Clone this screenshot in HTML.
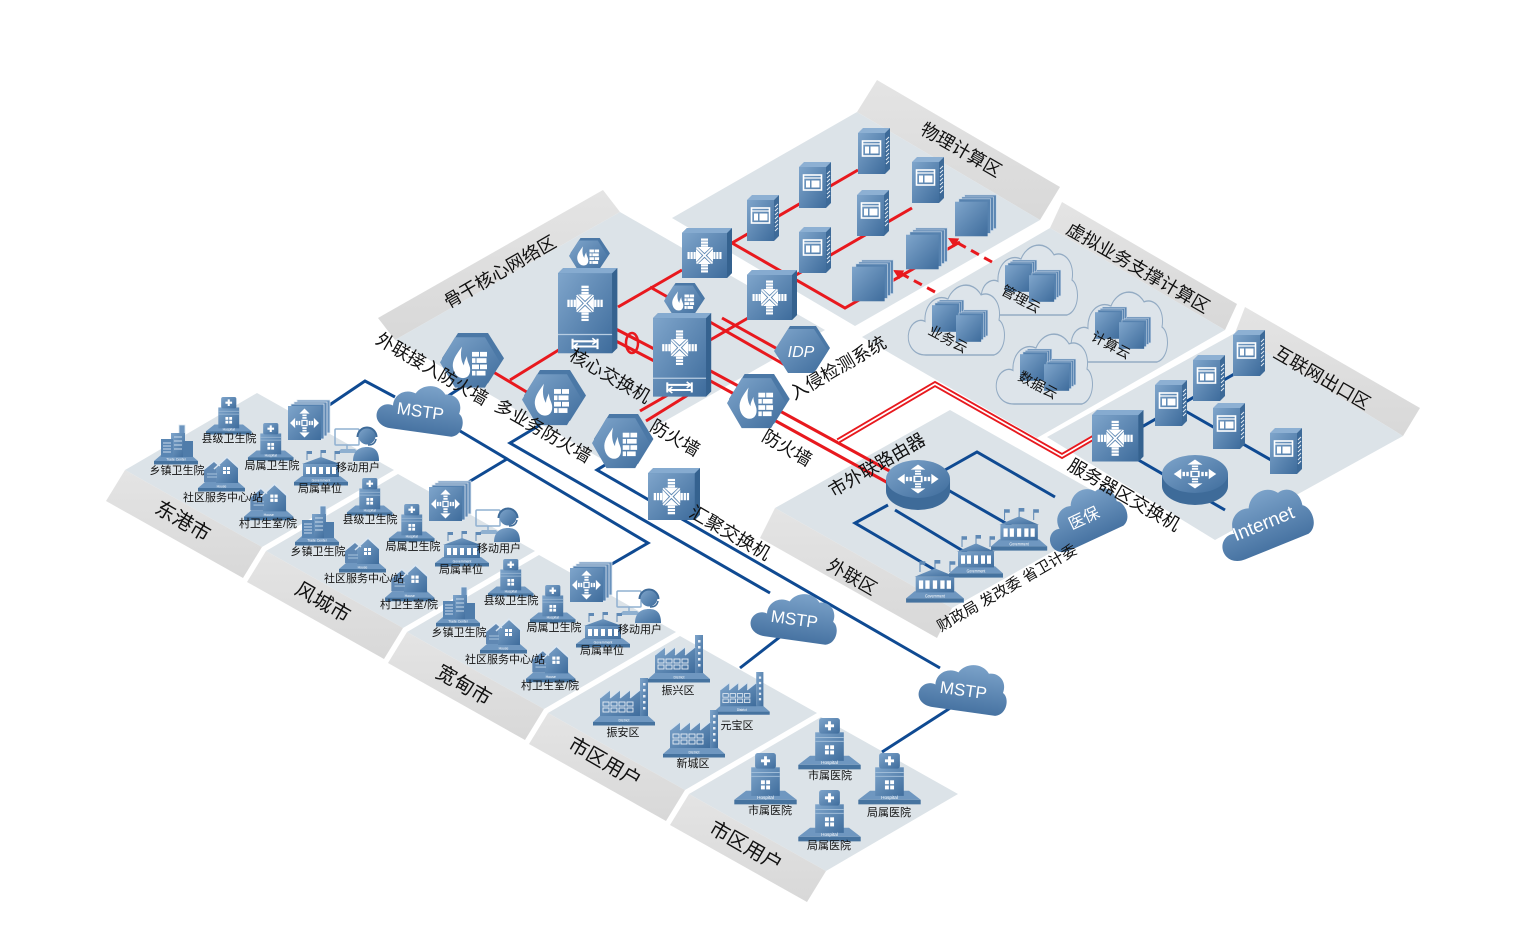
<!DOCTYPE html>
<html><head><meta charset="utf-8">
<style>
html,body{margin:0;padding:0;background:#fff;}
svg{display:block;}
text{font-family:"Liberation Sans","Noto Sans CJK SC",sans-serif;}
</style></head><body>
<svg width="1539" height="929" viewBox="0 0 1539 929" xmlns="http://www.w3.org/2000/svg">
<defs>
<linearGradient id="ig" x1="0" y1="0" x2="1" y2="1"><stop offset="0" stop-color="#7fa5cb"/><stop offset="1" stop-color="#3e6c9c"/></linearGradient>
<linearGradient id="cg" x1="0" y1="0" x2="0" y2="1"><stop offset="0" stop-color="#7ba2c9"/><stop offset="1" stop-color="#4773a2"/></linearGradient>
<linearGradient id="bg" x1="0" y1="0" x2="0" y2="1"><stop offset="0" stop-color="#e4e4e4"/><stop offset="1" stop-color="#d8d8d8"/></linearGradient>

<g id="ia"><rect x="-3.5" y="-17" width="7" height="2.2"/><rect x="-3.5" y="-14" width="7" height="2.2"/><rect x="-3.5" y="-11" width="7" height="2.2"/><path d="M-6.5,-8.5 H6.5 L0,-2.5 Z"/></g>
<g id="inarr" fill="#fff"><path d="M-8,-8 L8,8 M8,-8 L-8,8" stroke="#fff" stroke-width="1.6"/><use href="#ia"/><use href="#ia" transform="rotate(90)"/><use href="#ia" transform="rotate(180)"/><use href="#ia" transform="rotate(270)"/></g>
<g id="oa"><rect x="-2.5" y="-10" width="5" height="2"/><rect x="-2.5" y="-7" width="5" height="2"/><path d="M-6,-11 H6 L0,-17 Z"/></g>
<g id="outarr" fill="#fff"><use href="#oa"/><use href="#oa" transform="rotate(90)"/><use href="#oa" transform="rotate(180)"/><use href="#oa" transform="rotate(270)"/><rect x="-3" y="-3" width="6" height="6" fill="none" stroke="#fff" stroke-width="1.5"/></g>

<g id="sw">
 <path d="M0,5 L5,0 H50 V45 L45,50 Z" fill="#4b78a6"/>
 <rect x="0" y="5" width="45" height="45" fill="url(#ig)"/>
 <path d="M45,5 L50,0 V45 L45,50 Z" fill="#35628f"/>
 <path d="M0,5 L5,0 H50 L45,5 Z" fill="#86abd0"/>
 <g transform="translate(22.5,27.5)"><use href="#inarr"/></g>
</g>
<g id="asw">
 <rect x="9" y="0" width="33" height="33" fill="#6a93bd" stroke="#dfe8f1" stroke-width=".8"/>
 <rect x="6" y="2" width="33" height="34" fill="#5f89b5" stroke="#dfe8f1" stroke-width=".8"/>
 <rect x="3" y="4" width="33" height="35" fill="#5582b0" stroke="#dfe8f1" stroke-width=".8"/>
 <rect x="0" y="6" width="33" height="34" fill="url(#ig)"/>
 <g transform="translate(16.5,23) scale(.85)"><use href="#outarr"/></g>
</g>
<g id="cs">
 <path d="M0,5 L5,0 H57 V77 L52,82 Z" fill="#4b78a6"/>
 <rect x="0" y="5" width="52" height="77" fill="url(#ig)"/>
 <path d="M52,5 L57,0 V77 L52,82 Z" fill="#35628f"/>
 <path d="M0,5 L5,0 H57 L52,5 Z" fill="#86abd0"/>
 <line x1="0" y1="64" x2="52" y2="64" stroke="#b8cde2" stroke-width="1.2"/>
 <g transform="translate(26,34)"><use href="#inarr"/></g>
 <g transform="translate(26,73)" stroke="#fff" stroke-width="2" fill="none"><path d="M-12,-5 V5 M12,-5 V5 M-12,-2.5 H12 M-12,2.5 H12"/><path d="M7,-5.5 L11,-2.5 L7,0.5 M-7,-0.5 L-11,2.5 L-7,5.5" stroke-width="1.5"/></g>
</g>
<g id="fw">
 <path d="M18,0 H48 L64,24 L48,48 H18 L2,24 Z" fill="#4b78a6"/>
 <path d="M15,4 H45 L60,28 L45,52 H15 L0,28 Z" fill="url(#ig)"/>
 <path d="M22,13 C16,21 12,26 13,33 C14,39 18,43 23,43 C28,43 31,39 30,33 C29,29 27,27 27,22 C25,26 24,28 24,31 C21,27 20,20 22,13 Z" fill="#fff"/>
 <g fill="#fff"><rect x="32" y="18" width="7" height="4.5"/><rect x="40" y="18" width="7" height="4.5"/><rect x="32" y="24" width="3.5" height="4.5"/><rect x="36.5" y="24" width="10" height="4.5"/><rect x="32" y="30" width="7" height="4.5"/><rect x="40" y="30" width="7" height="4.5"/><rect x="32" y="36" width="3.5" height="4.5"/><rect x="36.5" y="36" width="9" height="4.5"/></g>
</g>
<g id="srv">
 <path d="M0,5 L5,0 H32 L27,5 Z" fill="#8db0d3"/>
 <rect x="0" y="5" width="27" height="41" fill="url(#ig)"/>
 <path d="M27,5 L32,0 V41 L27,46 Z" fill="#3d6a98"/>
 <path d="M28,12 L31,9 M28,16 L31,13 M28,20 L31,17 M28,24 L31,21 M28,28 L31,25 M28,32 L31,29 M28,36 L31,33" stroke="#dfe9f3" stroke-width="1"/>
 <rect x="4.5" y="13" width="18" height="15" fill="none" stroke="#fff" stroke-width="1.6"/>
 <line x1="4.5" y1="16" x2="22.5" y2="16" stroke="#fff" stroke-width="1.2"/>
 <rect x="7" y="18.5" width="4" height="7" fill="#fff"/>
 <rect x="12.5" y="18.5" width="8" height="7" fill="#fff"/>
</g>
<g id="bl">
 <rect x="10" y="0" width="33" height="35" fill="#5d87b3" stroke="#c9d8e8" stroke-width=".7"/>
 <rect x="7" y="2" width="33" height="35" fill="#5a85b2" stroke="#c9d8e8" stroke-width=".7"/>
 <rect x="4" y="4" width="33" height="36" fill="#5682af" stroke="#c9d8e8" stroke-width=".7"/>
 <rect x="0" y="7" width="34" height="36" fill="url(#ig)"/>
</g>
<g id="rt">
 <path d="M0,22 V34 A33,19 0 0 0 66,34 V22 Z" fill="#3e6b99"/>
 <ellipse cx="33" cy="22" rx="33" ry="19" fill="url(#ig)"/>
 <g transform="translate(33,22) scale(1.25,.85)"><use href="#outarr"/></g>
</g>
<path id="cloud" d="M20,55 C6,55 0,46 3,38 C6,31 14,29 19,31 C18,19 30,11 42,15 C48,4 66,1 75,12 C86,9 96,18 93,30 C101,34 101,52 88,55 Z"/>
<g id="hs">
 <path d="M1,36 L10,29 H40 L49,36 Z" fill="#6f97c0"/>
 <rect x="1" y="36" width="48" height="3.5" fill="#46739f"/>
 <rect x="14" y="11" width="22" height="22" fill="url(#ig)"/>
 <path d="M14,15 H36 M14,18 H36" stroke="#9fbcd8" stroke-width=".8"/>
 <rect x="17" y="0" width="16" height="12" rx="2" fill="url(#ig)"/>
 <path d="M25,2.5 V9.5 M21.5,6 H28.5" stroke="#fff" stroke-width="2.2"/>
 <g fill="#fff"><rect x="21.5" y="21" width="3" height="3"/><rect x="25.5" y="21" width="3" height="3"/><rect x="21.5" y="25" width="3" height="3"/><rect x="25.5" y="25" width="3" height="3"/></g>
 <text x="25" y="35.3" font-size="3.6" fill="#fff" text-anchor="middle">Hospital</text>
</g>
<g id="gv">
 <path d="M1,32 L9,26 H47 L55,32 Z" fill="#6f97c0"/>
 <rect x="1" y="32" width="54" height="3.5" fill="#46739f"/>
 <path d="M14,1 V10 M28,0 V8 M42,1 V10" stroke="#5f89b5" stroke-width="1"/>
 <path d="M14,1 h5 v3 h-5 Z M28,0 h5 v3 h-5 Z M42,1 h5 v3 h-5 Z" fill="#5f89b5"/>
 <path d="M9,14 L28,7 L47,14 Z" fill="url(#ig)"/>
 <rect x="10" y="14" width="36" height="13" fill="url(#ig)"/>
 <g fill="#fff"><rect x="13" y="17" width="4" height="7"/><rect x="19" y="17" width="4" height="7"/><rect x="26" y="17" width="4" height="7"/><rect x="33" y="17" width="4" height="7"/><rect x="39" y="17" width="4" height="7"/></g>
 <text x="28" y="31.3" font-size="3.4" fill="#fff" text-anchor="middle">Government</text>
</g>
<g id="hu">
 <path d="M1,32 L8,26 H41 L48,32 Z" fill="#6f97c0"/>
 <rect x="1" y="32" width="47" height="3.5" fill="#46739f"/>
 <path d="M7,26 V14 L17,6 L26,14 V26 Z" fill="#6088b3"/>
 <path d="M19,27 V12 L30,2 L41,12 V27 Z" fill="url(#ig)"/>
 <path d="M17,13 L30,1 L43,13" fill="none" stroke="#dbe6f1" stroke-width="1.5"/>
 <path d="M5,15 L17,5 L23,10" fill="none" stroke="#dbe6f1" stroke-width="1.2"/>
 <g fill="#fff"><rect x="26" y="11" width="3" height="3"/><rect x="30" y="11" width="3" height="3"/><rect x="26" y="15" width="3" height="3"/><rect x="30" y="15" width="3" height="3"/></g>
 <path d="M10,18 H20 M10,21 H20" stroke="#a9c3dc" stroke-width="1"/>
 <text x="24.5" y="31.3" font-size="3.4" fill="#fff" text-anchor="middle">House</text>
</g>
<g id="tc">
 <path d="M1,36 L8,30 H38 L45,36 Z" fill="#6f97c0"/>
 <rect x="1" y="36" width="44" height="3.5" fill="#46739f"/>
 <rect x="26" y="0" width="6" height="14" fill="#6d95bf" stroke="#dbe6f1" stroke-width=".8"/>
 <rect x="18" y="8" width="14" height="24" fill="url(#ig)"/>
 <rect x="8" y="14" width="12" height="18" fill="#5a86b3"/>
 <rect x="30" y="16" width="10" height="16" fill="#4f7caa"/>
 <path d="M10,18 H18 M10,21 H18 M10,24 H18 M10,27 H18 M21,12 H29 M21,16 H29 M21,20 H29 M21,24 H29" stroke="#c9dbec" stroke-width="1"/>
 <text x="23" y="35.3" font-size="3.4" fill="#fff" text-anchor="middle">Trade Center</text>
</g>
<g id="fc">
 <path d="M1,44 L9,37 H55 L63,44 Z" fill="#6f97c0"/>
 <rect x="1" y="44" width="62" height="3.5" fill="#46739f"/>
 <rect x="48" y="0" width="8" height="38" fill="url(#ig)"/>
 <path d="M8,38 V20 L18,12 V20 L28,12 V20 L38,12 V20 L48,12 V38 Z" fill="url(#ig)"/>
 <path d="M8,20 L18,12 M18,20 L28,12 M28,20 L38,12 M38,20 L48,12" stroke="#d5e2ef" stroke-width="1.2"/>
 <g fill="none" stroke="#e7eef6" stroke-width=".9"><rect x="11" y="24" width="6" height="4"/><rect x="19" y="24" width="6" height="4"/><rect x="27" y="24" width="6" height="4"/><rect x="35" y="24" width="6" height="4"/><rect x="11" y="30" width="6" height="4"/><rect x="19" y="30" width="6" height="4"/><rect x="27" y="30" width="6" height="4"/><rect x="35" y="30" width="6" height="4"/></g>
 <g fill="#e7eef6"><rect x="51" y="5" width="2.5" height="2.5"/><rect x="51" y="11" width="2.5" height="2.5"/><rect x="51" y="17" width="2.5" height="2.5"/><rect x="51" y="23" width="2.5" height="2.5"/><rect x="51" y="29" width="2.5" height="2.5"/></g>
 <text x="32" y="43.3" font-size="3.6" fill="#fff" text-anchor="middle">District</text>
</g>
<g id="mu">
 <rect x="2" y="6" width="24" height="16" rx="1" fill="none" stroke="#8fb0d0" stroke-width="1.5"/>
 <path d="M14,22 V26" stroke="#8fb0d0" stroke-width="1.5"/>
 <path d="M4,30 L26,30 L22,26 H8 Z" fill="#8fb0d0"/>
 <path d="M20,38 C20,28 26,24 34,24 C42,24 46,28 46,38 Z" fill="url(#ig)"/>
 <circle cx="34" cy="13" r="8.5" fill="url(#ig)"/>
 <path d="M24.5,14 A9.5,9.5 0 0 1 43.5,14" fill="none" stroke="#3e6b99" stroke-width="2"/>
 <path d="M43,16 Q42,22 35,22" fill="none" stroke="#3e6b99" stroke-width="1.5"/>
</g>
<g id="city">
 <use href="#asw" transform="translate(288,400)"/>
 <use href="#hs" transform="translate(205,397) scale(.95)"/>
 <use href="#tc" transform="translate(153,425)"/>
 <use href="#hs" transform="translate(247,423) scale(.95)"/>
 <use href="#mu" transform="translate(333,423)"/>
 <use href="#hu" transform="translate(197,456)"/>
 <use href="#gv" transform="translate(293,450)"/>
 <use href="#hu" transform="translate(243,483) scale(1.05)"/>
</g>
<g id="vc">
 <use href="#cloud" transform="translate(-4,-10) scale(1.0,1.4)" fill="#dde4ea" stroke="#93abc3" stroke-width="1"/>
 <use href="#bl" transform="translate(22,12) scale(.74)"/>
 <use href="#bl" transform="translate(46,22) scale(.74)"/>
</g>
</defs>

<!-- plates -->
<g>
 <polygon points="378,318 603,190 620,212 395,340" fill="url(#bg)"/>
 <polygon points="395,340 620,212 825,330 600,458" fill="#dce3e8"/>
 <polygon points="877,80 1060,187 1040,220 857,112" fill="url(#bg)"/>
 <polygon points="672,218 857,112 1040,220 855,326" fill="#dce3e8"/>
 <polygon points="1050,228 1225,330 1237,304 1062,202" fill="url(#bg)"/>
 <polygon points="862,337 1050,228 1225,330 1037,438" fill="#dce3e8"/>
 <polygon points="1235,333 1245,307 1420,408 1403,436" fill="url(#bg)"/>
 <polygon points="1047,437 1235,333 1403,436 1215,540" fill="#dce3e8"/>
 <polygon points="775,508 950,410 1127,510 952,608" fill="#dce3e8"/>
 <polygon points="775,508 952,608 937,638 760,538" fill="url(#bg)"/>
 <polygon points="125,470 257,393 394,470 262,547" fill="#dce3e8"/>
 <polygon points="125,470 262,547 243,578 106,501" fill="url(#bg)"/>
 <polygon points="266,551 398,474 535,551 403,628" fill="#dce3e8"/>
 <polygon points="266,551 403,628 384,659 247,582" fill="url(#bg)"/>
 <polygon points="407,632 539,555 676,632 544,709" fill="#dce3e8"/>
 <polygon points="407,632 544,709 525,740 388,663" fill="url(#bg)"/>
 <polygon points="548,713 680,636 817,713 685,790" fill="#dce3e8"/>
 <polygon points="548,713 685,790 666,821 529,744" fill="url(#bg)"/>
 <polygon points="689,794 821,717 958,794 826,871" fill="#dce3e8"/>
 <polygon points="689,794 826,871 807,902 670,825" fill="url(#bg)"/>
</g>

<!-- blue lines -->
<g stroke="#0f4a92" stroke-width="3" fill="none" stroke-linejoin="miter">
 <path d="M325,408 L365,381 L395,397"/>
 <path d="M445,398 L468,383"/>
 <path d="M455,428 L648,543 L605,568"/>
 <path d="M507,459 L462,486"/>
 <path d="M540,425 L510,443 L770,593"/>
 <path d="M610,462 L597,470 L940,668"/>
 <path d="M785,633 L740,668"/>
 <path d="M955,705 L882,752"/>
 <path d="M945,470 L977,452 L1055,497"/>
 <path d="M948,490 L1035,540"/>
 <path d="M888,505 L855,523 L935,570"/>
 <path d="M895,510 L978,560"/>
 <path d="M1140,428 L1250,365"/>
 <path d="M1180,408 L1285,468"/>
 <path d="M1135,458 L1225,510"/>
</g>

<!-- red lines -->
<g stroke="#e8191e" stroke-width="3" fill="none">
 <path d="M618,307 L682,270"/>
 <path d="M650,287 L680,304"/>
 <path d="M732,243 L858,170"/>
 <path d="M732,243 L845,308 L960,242"/>
 <path d="M770,290 L912,208"/>
 <path d="M705,343 L755,314"/>
 <path d="M710,322 L785,365"/>
 <path d="M722,318 L790,356"/>
 <path d="M570,343 L510,380"/>
 <path d="M490,370 L530,394"/>
 <path d="M612,327 L660,352"/>
 <path d="M612,339 L660,364"/>
 <path d="M705,368 L742,388"/>
 <path d="M705,378 L736,395"/>
 <path d="M778,410 L895,474"/>
 <path d="M774,420 L890,484"/>
 <path d="M680,388 L640,411"/>
 <path d="M696,390 L646,421"/>
 <ellipse cx="632" cy="343" rx="6" ry="10" stroke-width="2.5"/>
</g>
<path d="M838,441 L935,384 L1062,456 L1098,435" stroke="#e8191e" stroke-width="5.5" fill="none"/>
<path d="M838,441 L935,384 L1062,456 L1098,435" stroke="#fff" stroke-width="1.8" fill="none"/>
<g stroke="#e8191e" stroke-width="3" stroke-dasharray="9,6" fill="none">
 <path d="M992,262 L956,242"/>
 <path d="M935,292 L900,273"/>
</g>
<polygon points="948,238 959.2,238.5 954.2,247.2" fill="#e8191e"/>
<polygon points="893,270 904.2,270.5 899.2,279.2" fill="#e8191e"/>

<!-- physical servers -->
<use href="#srv" transform="translate(858,128)"/>
<use href="#srv" transform="translate(799,162)"/>
<use href="#srv" transform="translate(912,157)"/>
<use href="#srv" transform="translate(747,195)"/>
<use href="#srv" transform="translate(857,190)"/>
<use href="#srv" transform="translate(799,227)"/>
<use href="#bl" transform="translate(955,195) scale(.96)"/>
<use href="#bl" transform="translate(906,228) scale(.96)"/>
<use href="#bl" transform="translate(852,260) scale(.96)"/>

<!-- virtual clouds -->
<use href="#vc" transform="translate(983,248)"/>
<use href="#vc" transform="translate(910,288)"/>
<use href="#vc" transform="translate(1073,295)"/>
<use href="#vc" transform="translate(998,337)"/>

<!-- core area -->
<use href="#sw" transform="translate(682,228)"/>
<use href="#sw" transform="translate(747,270)"/>
<use href="#fw" transform="translate(569,238) scale(.64)"/>
<use href="#cs" transform="translate(558,268) scale(1.04)"/>
<use href="#fw" transform="translate(664,283) scale(.64)"/>
<use href="#cs" transform="translate(653,313) scale(1.02)"/>
<g transform="translate(774,326)">
 <path d="M16,0 H42 L56,22 L42,44 H16 L2,22 Z" fill="#4b78a6"/>
 <path d="M14,3 H40 L54,25 L40,47 H14 L0,25 Z" fill="url(#ig)"/>
 <text x="27" y="31" font-size="16" font-style="italic" fill="#fff" text-anchor="middle">IDP</text>
</g>
<use href="#fw" transform="translate(440,333) scale(1,1.05)"/>
<use href="#fw" transform="translate(522,370) scale(1,1.06)"/>
<use href="#fw" transform="translate(592,414) scale(.96,1.04)"/>
<use href="#fw" transform="translate(727,374) scale(.98,1.04)"/>
<use href="#sw" transform="translate(648,468) scale(1.04)"/>

<!-- internet zone -->
<use href="#sw" transform="translate(1092,410) scale(1.03)"/>
<use href="#srv" transform="translate(1233,330)"/>
<use href="#srv" transform="translate(1193,355)"/>
<use href="#srv" transform="translate(1155,380)"/>
<use href="#srv" transform="translate(1213,403)"/>
<use href="#srv" transform="translate(1270,428)"/>
<use href="#rt" transform="translate(1162,452)"/>
<g transform="translate(1262,520) rotate(-22)">
 <use href="#cloud" transform="translate(-50,-33) scale(1,1.15)" fill="url(#cg)"/>
 <text x="0" y="10" font-size="19" fill="#fff" text-anchor="middle">Internet</text>
</g>

<!-- external zone -->
<use href="#rt" transform="translate(886,457) scale(.97,1)"/>
<use href="#gv" transform="translate(990,508) scale(1.04,1.2)"/>
<use href="#gv" transform="translate(948,535) scale(1,1.2)"/>
<use href="#gv" transform="translate(905,560) scale(1.07,1.2)"/>
<g transform="translate(1082,514) rotate(-25)">
 <use href="#cloud" transform="translate(-43,-27) scale(.86,1)" fill="url(#cg)"/>
 <text x="0" y="10" font-size="16" fill="#fff" text-anchor="middle">医保</text>
</g>

<!-- MSTP clouds -->
<g transform="translate(421,407) rotate(8)">
 <use href="#cloud" transform="translate(-45,-27) scale(.9,.95)" fill="url(#cg)"/>
 <text x="0" y="10" font-size="17" fill="#fff" text-anchor="middle">MSTP</text>
</g>
<g transform="translate(795,615) rotate(8)">
 <use href="#cloud" transform="translate(-45,-27) scale(.9,.95)" fill="url(#cg)"/>
 <text x="0" y="10" font-size="17" fill="#fff" text-anchor="middle">MSTP</text>
</g>
<g transform="translate(964,686) rotate(8)">
 <use href="#cloud" transform="translate(-46,-27) scale(.92,.95)" fill="url(#cg)"/>
 <text x="0" y="10" font-size="17" fill="#fff" text-anchor="middle">MSTP</text>
</g>

<!-- cities -->
<use href="#city"/>
<use href="#city" transform="translate(141,81)"/>
<use href="#city" transform="translate(282,162)"/>

<!-- district factories -->
<use href="#fc" transform="translate(647,635)"/>
<use href="#fc" transform="translate(713,672) scale(.9)"/>
<use href="#fc" transform="translate(592,678)"/>
<use href="#fc" transform="translate(662,710)"/>

<!-- hospitals -->
<use href="#hs" transform="translate(797,718) scale(1.3)"/>
<use href="#hs" transform="translate(733,753) scale(1.3)"/>
<use href="#hs" transform="translate(857,753) scale(1.3)"/>
<use href="#hs" transform="translate(797,790) scale(1.3)"/>

<!-- small labels -->
<g font-size="11" fill="#111" text-anchor="middle">
 <text x="229" y="442">县级卫生院</text>
 <text x="177" y="474">乡镇卫生院</text>
 <text x="272" y="469">局属卫生院</text>
 <text x="223" y="501">社区服务中心/站</text>
 <text x="320" y="492">局属单位</text>
 <text x="358" y="471">移动用户</text>
 <text x="268" y="527">村卫生室/院</text>

 <text x="370" y="523">县级卫生院</text>
 <text x="318" y="555">乡镇卫生院</text>
 <text x="413" y="550">局属卫生院</text>
 <text x="364" y="582">社区服务中心/站</text>
 <text x="461" y="573">局属单位</text>
 <text x="499" y="552">移动用户</text>
 <text x="409" y="608">村卫生室/院</text>

 <text x="511" y="604">县级卫生院</text>
 <text x="459" y="636">乡镇卫生院</text>
 <text x="554" y="631">局属卫生院</text>
 <text x="505" y="663">社区服务中心/站</text>
 <text x="602" y="654">局属单位</text>
 <text x="640" y="633">移动用户</text>
 <text x="550" y="689">村卫生室/院</text>

 <text x="678" y="694">振兴区</text>
 <text x="623" y="736">振安区</text>
 <text x="737" y="729">元宝区</text>
 <text x="693" y="767">新城区</text>

 <text x="830" y="779">市属医院</text>
 <text x="770" y="814">市属医院</text>
 <text x="889" y="816">局属医院</text>
 <text x="829" y="849">局属医院</text>
</g>
<g font-size="14" fill="#111" text-anchor="middle">
 <text transform="translate(1021,299) rotate(28)" dy="5">管理云</text>
 <text transform="translate(948,339) rotate(28)" dy="5">业务云</text>
 <text transform="translate(1111,345) rotate(28)" dy="5">计算云</text>
 <text transform="translate(1038,385) rotate(28)" dy="5">数据云</text>
 <text transform="translate(1007,588) rotate(-30)" dy="5" font-size="15">财政局 发改委 省卫计委</text>
</g>

<!-- zone / device labels -->
<g font-size="18" fill="#111" text-anchor="middle">
 <text transform="translate(500,272) rotate(-30)" dy="6">骨干核心网络区</text>
 <text transform="translate(961,150) rotate(30)" dy="6">物理计算区</text>
 <text transform="translate(1138,268) rotate(30)" dy="6">虚拟业务支撑计算区</text>
 <text transform="translate(1322,378) rotate(30)" dy="6">互联网出口区</text>
 <text transform="translate(432,369) rotate(30)" dy="6">外联接入防火墙</text>
 <text transform="translate(543,431) rotate(30)" dy="6">多业务防火墙</text>
 <text transform="translate(610,376) rotate(30)" dy="6">核心交换机</text>
 <text transform="translate(675,438) rotate(30)" dy="6">防火墙</text>
 <text transform="translate(787,448) rotate(30)" dy="6">防火墙</text>
 <text transform="translate(838,368) rotate(-30)" dy="6">入侵检测系统</text>
 <text transform="translate(730,533) rotate(30)" dy="6">汇聚交换机</text>
 <text transform="translate(877,465) rotate(-30)" dy="6">市外联路由器</text>
 <text transform="translate(1124,495) rotate(30)" dy="6">服务器区交换机</text>
 <text transform="translate(852,577) rotate(30)" dy="6">外联区</text>
</g>
<g font-size="20" fill="#111" text-anchor="middle">
 <text transform="translate(183,521) rotate(30)" dy="7">东港市</text>
 <text transform="translate(323,602) rotate(30)" dy="7">风城市</text>
 <text transform="translate(464,685) rotate(30)" dy="7">宽甸市</text>
 <text transform="translate(605,762) rotate(30)" dy="7">市区用户</text>
 <text transform="translate(746,846) rotate(30)" dy="7">市区用户</text>
</g>
</svg>
</body></html>
